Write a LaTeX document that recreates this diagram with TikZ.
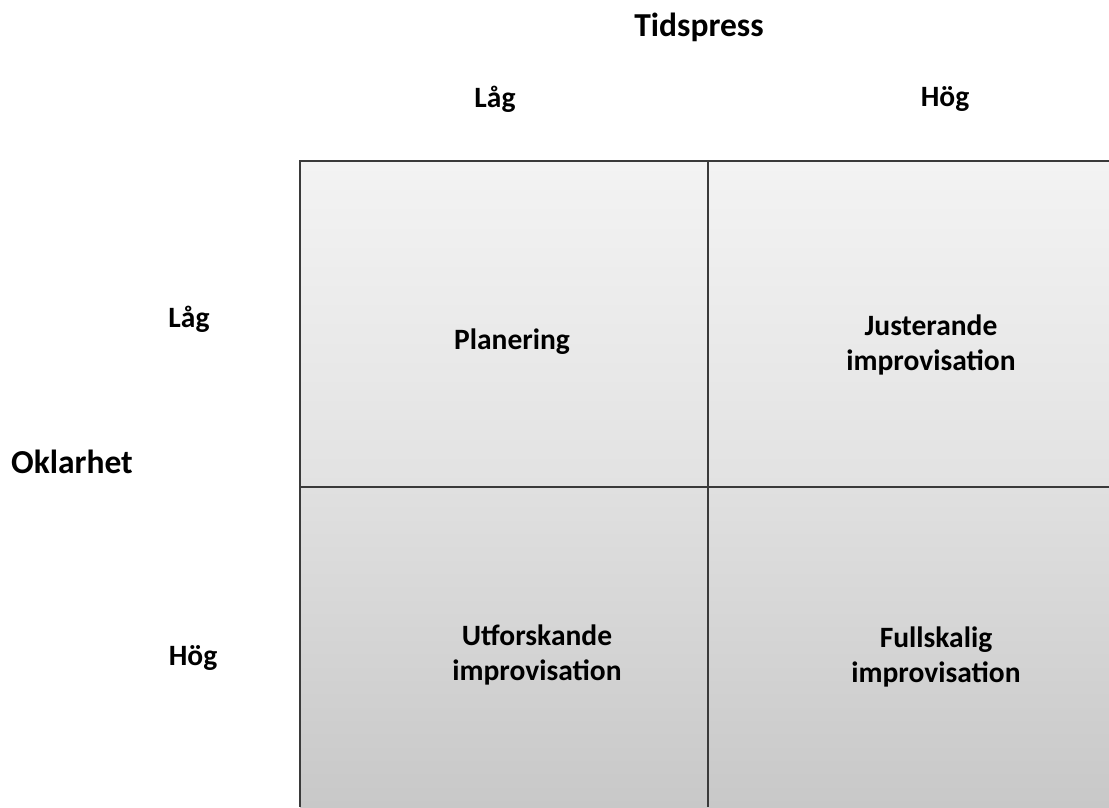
\documentclass[tikz,border=0pt]{standalone}
\usepackage{fontspec}
\setmainfont{Carlito}
\definecolor{topA}{HTML}{F3F3F3}
\definecolor{topB}{HTML}{E2E2E2}
\definecolor{botA}{HTML}{E0E0E0}
\definecolor{botB}{HTML}{C8C8C8}
\definecolor{gridc}{HTML}{3A3A3A}
\begin{document}
\begin{tikzpicture}[x=1pt,y=-1pt,
  lbl/.style={font=\fontsize{29.5}{35}\selectfont\bfseries, text=black, align=center, inner sep=0pt},
  axis/.style={font=\fontsize{33.5}{40}\selectfont\bfseries, text=black, inner sep=0pt},
  gridline/.style={draw=gridc, line width=2pt}]
\useasboundingbox (0,0) rectangle (1109,807);
% cells
\shade[top color=topA, bottom color=topB] (300,161) rectangle (708,487);
\shade[top color=topA, bottom color=topB] (708,161) rectangle (1109,487);
\shade[top color=botA, bottom color=botB] (300,487) rectangle (708,807);
\shade[top color=botA, bottom color=botB] (708,487) rectangle (1109,807);
% grid
\coordinate (tl) at (300,161);
\coordinate (tr) at (1109,161);
\coordinate (bl) at (300,807);
\coordinate (tm) at (708,161);
\coordinate (bm) at (708,807);
\coordinate (ml) at (300,487);
\coordinate (mr) at (1109,487);
\draw[gridline] (bl) -- (tl) -- (tr);
\draw[gridline] (tm) -- (bm);
\draw[gridline] (ml) -- (mr);
% labels
\node[axis] (tid) at (699,27) {Tidspress};
\node[lbl] (lagT) at (495,99) {Låg};
\node[lbl] (hogT) at (945,99) {Hög};
\node[lbl] (lagL) at (189,319) {Låg};
\node[lbl] (hogL) at (193,658) {Hög};
\node[axis] (okl) at (72,462) {Oklarhet};
\node[lbl] (plan) at (512,342) {Planering};
\node[lbl] (just) at (931,345) {Justerande\\improvisation};
\node[lbl] (utf) at (537,655) {Utforskande\\improvisation};
\node[lbl] (full) at (936,657) {Fullskalig\\improvisation};
\end{tikzpicture}
\end{document}
